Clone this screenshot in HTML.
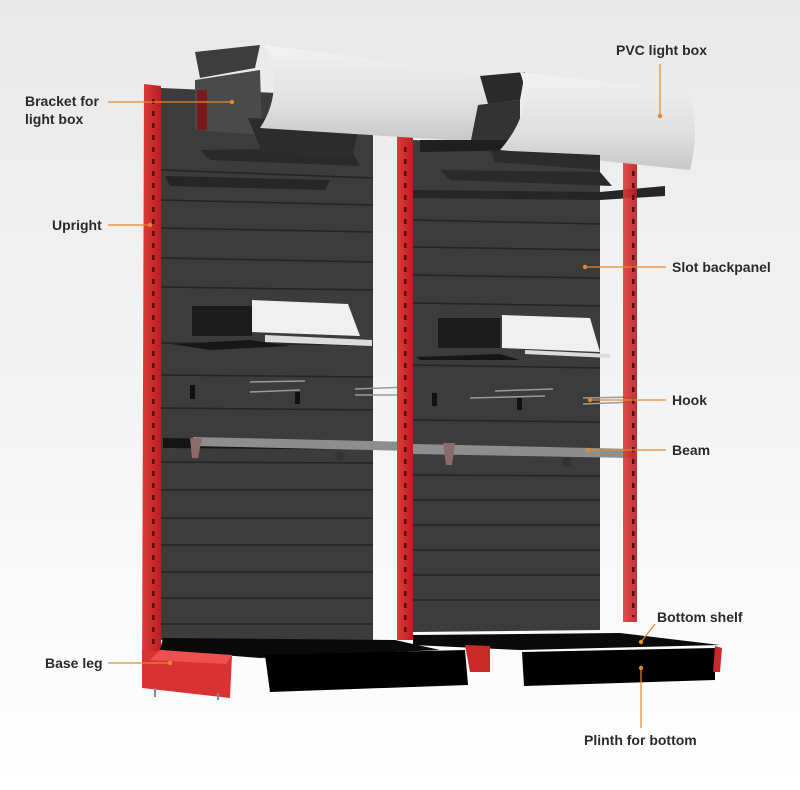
<!DOCTYPE html>
<html><head><meta charset="utf-8"><style>
html,body{margin:0;padding:0}
body{width:800px;height:790px;overflow:hidden;background:linear-gradient(#e9e9e9,#f6f6f6 60%,#fff)}
svg{display:block}
text{font-family:"Liberation Sans",sans-serif;font-size:14px;fill:#2a2a2a;font-weight:bold}
</style></head><body>
<svg width="800" height="790" viewBox="0 0 800 790" xmlns="http://www.w3.org/2000/svg">
<defs>
<linearGradient id="tube" x1="0" y1="0" x2="0" y2="1"><stop offset="0" stop-color="#f2f2f2"/><stop offset="0.6" stop-color="#e0e0e0"/><stop offset="1" stop-color="#c8c8c8"/></linearGradient>
<linearGradient id="red" x1="0" x2="1"><stop offset="0" stop-color="#e03a3a"/><stop offset="1" stop-color="#b82020"/></linearGradient>
<pattern id="slots" width="6" height="12" patternUnits="userSpaceOnUse"><rect width="6" height="12" fill="none"/><rect x="2" y="3" width="2.5" height="5" fill="#5a0c0c"/></pattern>
</defs>

<!-- left panel -->
<polygon points="161,88 373,97 373,640 161,640" fill="#3c3c3c"/>
<!-- right panel -->
<polygon points="413,140 600,148 600,630 413,632" fill="#3c3c3c"/>
<g stroke="#242424" stroke-width="1.5">
<line x1="161" y1="170" x2="373" y2="178"/><line x1="161" y1="200" x2="373" y2="205"/><line x1="161" y1="228" x2="373" y2="232"/>
<line x1="161" y1="258" x2="373" y2="262"/><line x1="161" y1="287" x2="373" y2="290"/><line x1="161" y1="343" x2="373" y2="345"/>
<line x1="161" y1="375" x2="373" y2="377"/><line x1="161" y1="408" x2="373" y2="410"/><line x1="161" y1="462" x2="373" y2="463"/>
<line x1="161" y1="490" x2="373" y2="490"/><line x1="161" y1="518" x2="373" y2="518"/><line x1="161" y1="545" x2="373" y2="545"/>
<line x1="161" y1="572" x2="373" y2="572"/><line x1="161" y1="598" x2="373" y2="598"/><line x1="161" y1="624" x2="373" y2="624"/>
<line x1="413" y1="192" x2="600" y2="197"/><line x1="413" y1="220" x2="600" y2="224"/><line x1="413" y1="247" x2="600" y2="250"/>
<line x1="413" y1="275" x2="600" y2="278"/><line x1="413" y1="303" x2="600" y2="306"/><line x1="413" y1="365" x2="600" y2="368"/>
<line x1="413" y1="420" x2="600" y2="422"/><line x1="413" y1="475" x2="600" y2="476"/><line x1="413" y1="500" x2="600" y2="500"/>
<line x1="413" y1="525" x2="600" y2="525"/><line x1="413" y1="550" x2="600" y2="550"/><line x1="413" y1="575" x2="600" y2="575"/>
<line x1="413" y1="600" x2="600" y2="600"/>
</g>
<!-- shelves under light boxes -->
<polygon points="200,150 350,148 360,166 210,160" fill="#2a2a2a"/>
<polygon points="165,176 330,180 325,190 170,186" fill="#262626"/>
<polygon points="440,170 600,172 612,186 450,180" fill="#2a2a2a"/>
<polygon points="413,190 600,192 665,186 665,196 600,200 413,198" fill="#262626"/>
<!-- display shelves -->
<rect x="192" y="306" width="60" height="30" fill="#1c1c1c"/>
<polygon points="172,344 250,340 290,346 210,350" fill="#161616"/>
<polygon points="252,300 348,304 360,336 252,332" fill="#f0f0f0"/>
<polygon points="265,335 372,340 372,346 265,342" fill="#dcdcdc"/>
<rect x="438" y="318" width="62" height="30" fill="#1c1c1c"/>
<polygon points="416,357 500,354 520,360 420,360" fill="#161616"/>
<polygon points="502,315 590,318 600,352 502,348" fill="#f0f0f0"/>
<polygon points="525,350 610,354 610,358 525,354" fill="#dcdcdc"/>
<!-- hooks -->
<g stroke="#9a9a9a" stroke-width="1.5" fill="none">
<line x1="250" y1="382" x2="305" y2="381"/><line x1="250" y1="392" x2="300" y2="390"/>
<line x1="355" y1="389" x2="410" y2="387"/><line x1="355" y1="395" x2="408" y2="395"/>
<line x1="495" y1="391" x2="553" y2="389"/><line x1="470" y1="398" x2="545" y2="396"/>
<line x1="583" y1="398" x2="635" y2="397"/><line x1="583" y1="404" x2="635" y2="402"/>
</g>
<rect x="190" y="385" width="5" height="14" fill="#111"/><rect x="295" y="392" width="5" height="12" fill="#111"/>
<rect x="432" y="393" width="5" height="13" fill="#111"/><rect x="517" y="398" width="5" height="12" fill="#111"/>
<!-- beams -->
<polygon points="163,438 413,442 413,450 163,448" fill="#151515"/>
<polygon points="193,437 413,442 413,451 193,446" fill="#8e8e8e"/>
<polygon points="190,438 202,438 198,458 192,458" fill="#8d6a6a"/>
<polygon points="413,444 635,449 635,458 413,454" fill="#8e8e8e"/>
<polygon points="443,443 455,443 452,465 446,465" fill="#8d6a6a"/>
<circle cx="340" cy="456" r="5" fill="#333"/><circle cx="567" cy="462" r="5" fill="#333"/>
<!-- uprights -->
<polygon points="144,84 161,86 161,684 142,684" fill="url(#red)"/>
<rect x="152" y="92" width="6" height="585" fill="url(#slots)"/>
<polygon points="397,135 413,137 413,640 397,640" fill="url(#red)"/>
<rect x="404" y="145" width="6" height="490" fill="url(#slots)"/>
<polygon points="623,156 637,157 637,622 623,622" fill="url(#red)" opacity="0.9"/>
<rect x="630" y="165" width="5" height="452" fill="url(#slots)"/>
<!-- light box 1 -->
<polygon points="195,52 260,45 255,68 200,78" fill="#3d3d3d"/>
<polygon points="195,80 260,70 262,135 195,130" fill="#4a4a4a"/>
<rect x="197" y="90" width="10" height="40" fill="#7a1a1a"/>
<polygon points="248,118 360,122 352,158 262,152" fill="#2c2c2c"/>
<path d="M265,45 L490,75 Q500,110 480,142 L260,128 Q285,90 265,45 Z" fill="url(#tube)"/>
<!-- light box 2 -->
<polygon points="480,76 525,72 520,100 488,104" fill="#2a2a2a"/>
<polygon points="478,105 520,100 520,140 470,145" fill="#333"/>
<polygon points="420,140 510,140 530,150 420,152" fill="#1f1f1f"/>
<path d="M520,72 L690,92 Q700,130 690,170 L500,150 Q535,110 520,72 Z" fill="url(#tube)"/>
<polygon points="490,150 600,155 600,170 495,162" fill="#2c2c2c"/>
<!-- bottom shelves / plinths -->
<polygon points="163,638 395,640 440,650 260,658 160,650" fill="#0a0a0a"/>
<polygon points="265,655 465,650 468,685 270,692" fill="#000"/>
<polygon points="413,635 620,633 720,645 520,650 413,645" fill="#0a0a0a"/>
<polygon points="522,652 715,648 715,680 524,686" fill="#000"/>
<polygon points="465,645 490,646 490,672 470,672" fill="#c82a2a"/>
<polygon points="715,646 722,648 720,672 713,672" fill="#c82a2a"/>
<!-- base leg -->
<polygon points="142,650 232,655 230,698 142,688" fill="#d83232"/>
<polygon points="160,650 232,655 226,664 150,660" fill="#ee5050"/>
<g stroke="#888" stroke-width="2"><line x1="155" y1="688" x2="155" y2="697"/><line x1="218" y1="693" x2="218" y2="700"/></g>

<!-- callouts -->
<g stroke="#e8862a" stroke-width="1.2" fill="none">
<line x1="108" y1="102" x2="232" y2="102"/>
<line x1="108" y1="225" x2="150" y2="225"/>
<line x1="660" y1="64" x2="660" y2="116"/>
<line x1="585" y1="267" x2="666" y2="267"/>
<line x1="590" y1="400" x2="666" y2="400"/>
<line x1="588" y1="450" x2="666" y2="450"/>
<line x1="641" y1="642" x2="655" y2="624"/>
<line x1="108" y1="663" x2="170" y2="663"/>
<line x1="641" y1="668" x2="641" y2="728"/>
</g>
<g fill="#e8862a">
<circle cx="232" cy="102" r="2.2"/><circle cx="150" cy="225" r="2.2"/><circle cx="660" cy="116" r="2.2"/>
<circle cx="585" cy="267" r="2.2"/><circle cx="590" cy="400" r="2.2"/><circle cx="588" cy="450" r="2.2"/>
<circle cx="641" cy="642" r="2.2"/><circle cx="170" cy="663" r="2.2"/><circle cx="641" cy="668" r="2.2"/>
</g>
<text x="25" y="106">Bracket for</text>
<text x="25" y="124">light box</text>
<text x="52" y="230">Upright</text>
<text x="616" y="55">PVC light box</text>
<text x="672" y="272">Slot backpanel</text>
<text x="672" y="405">Hook</text>
<text x="672" y="455">Beam</text>
<text x="657" y="622">Bottom shelf</text>
<text x="45" y="668">Base leg</text>
<text x="584" y="745">Plinth for bottom</text>
</svg>
</body></html>
